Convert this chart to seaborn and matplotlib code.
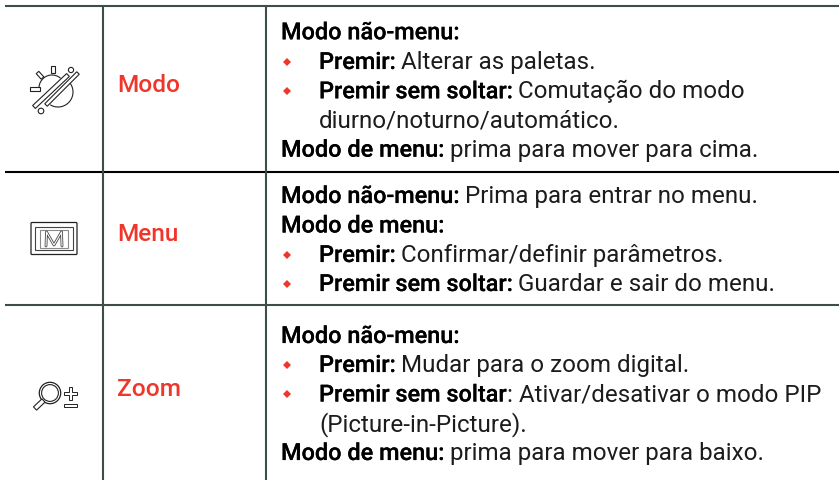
import numpy as np
import matplotlib
matplotlib.use("Agg")
import matplotlib.pyplot as plt
import matplotlib.patheffects as pe
from matplotlib.patches import Rectangle, Circle, Polygon, FancyBboxPatch
import seaborn as sns

sns.set_theme(style="white")
plt.rcParams['font.family'] = ['Roboto', 'DejaVu Sans']

RED = "#f0352b"
GRID = "#3f4d4a"
INK = "#1c1c1c"
FS_B = 16.9
FS_R = 17.4

button_names = ["Modo", "Menu", "Zoom"]
button_y = [92, 241, 396]

# (bullet?, x, baseline, bold part, regular part)
rows = [
    (False, 281, 39.3, "Modo não-menu:", ""),
    (True, 319, 69, "Premir:", " Alterar as paletas."),
    (True, 319, 98.3, "Premir sem soltar:", " Comutação do modo"),
    (False, 319, 127.3, "", "diurno/noturno/automático."),
    (False, 281, 156.7, "Modo de menu:", " prima para mover para cima."),
    (False, 281, 203, "Modo não-menu:", " Prima para entrar no menu."),
    (False, 281, 232.5, "Modo de menu:", ""),
    (True, 319, 262, "Premir:", " Confirmar/definir parâmetros."),
    (True, 319, 291, "Premir sem soltar:", " Guardar e sair do menu."),
    (False, 281, 343, "Modo não-menu:", ""),
    (True, 319, 372, "Premir:", " Mudar para o zoom digital."),
    (True, 319, 401.5, "Premir sem soltar", ": Ativar/desativar o modo PIP"),
    (False, 319, 431, "", "(Picture-in-Picture)."),
    (False, 281, 460, "Modo de menu:", " prima para mover para baixo."),
]

fig = plt.figure(figsize=(8.39, 4.8), dpi=100)
ax = fig.add_axes([0, 0, 1, 1])
ax.set_xlim(0, 839)
ax.set_ylim(480, 0)
ax.axis("off")

# table rules
ax.hlines(5.5, 5, 839, color=GRID, lw=1.5)
ax.hlines(172, 5, 839, color="black", lw=1.5)
ax.hlines(305, 5, 839, color=GRID, lw=1.5)
ax.vlines([102.5, 266], 5, 480, color=GRID, lw=1.5)

heavy = [pe.withStroke(linewidth=0.12, foreground="black")]

# button names
for name, y in zip(button_names, button_y):
    ax.text(117.5, y, name, color=RED, fontsize=17.6, weight=500, va="baseline", ha="left")

# description text
fig.canvas.draw()
r = fig.canvas.get_renderer()
for bullet, x, y, bold, reg in rows:
    cx = x
    if bullet:
        ax.plot([286.7], [y - 7.5], marker="D", ms=4, color=RED, mec=RED, mew=0)
    if bold:
        t = ax.text(cx, y, bold, color="black", fontsize=FS_B, weight=500, va="baseline", ha="left",
                    path_effects=heavy)
        cx = t.get_window_extent(r).x1
    if reg:
        if reg.startswith(" "):
            cx += 5
            reg = reg[1:]
        ax.text(cx, y, reg, color=INK, fontsize=FS_R, weight="normal", va="baseline", ha="left")

lw = 0.8
k = "#222222"

def bar(x0, y0, x1, y1, w=3.5):
    d = np.array([x1 - x0, y1 - y0], float)
    d /= np.hypot(*d)
    n = np.array([-d[1], d[0]]) * w / 2
    p = [(x0 + n[0], y0 + n[1]), (x1 + n[0], y1 + n[1]), (x1 - n[0], y1 - n[1]), (x0 - n[0], y0 - n[1])]
    ax.add_patch(Polygon(p, closed=True, fill=True, fc="white", ec=k, lw=lw, zorder=3))

def arc(cx, cy, rad, a0, a1):
    a = np.radians(np.linspace(a0, a1, 40))
    ax.plot(cx + rad * np.cos(a), cy + rad * np.sin(a), color=k, lw=lw, zorder=2)

# mode icon
arc(52, 88, 13, 165, 310)
arc(58, 92, 15, -40, 120)
bar(34, 107, 68, 75, 4)
bar(46, 105, 78, 73, 3.5)
ax.add_patch(Circle((41, 111), 2.8, fc="white", ec=k, lw=lw, zorder=3))
ax.add_patch(Circle((71, 70), 2.6, fc="white", ec=k, lw=lw, zorder=3))
bar(53, 65.5, 53, 73, 4.5)
bar(37.5, 72.5, 42.5, 78, 3.5)
bar(30, 89, 39.5, 89, 3.5)

# menu icon
ax.add_patch(FancyBboxPatch((31, 222.5), 46, 32, boxstyle="round,pad=0,rounding_size=1",
                            fc="white", ec=k, lw=0.9))
ax.add_patch(Rectangle((35, 227), 38, 23, fc="white", ec="#444444", lw=0.8))
ax.add_patch(Rectangle((40, 229.5), 28, 18, fc="white", ec="#8a8a8a", lw=0.8))
ax.plot([46, 46.5, 54, 61.5, 62], [246, 232, 245, 232, 246], color="#444444", lw=2.0)
ax.plot([46, 46.5, 54, 61.5, 62], [246, 232, 245, 232, 246], color="white", lw=0.8)

# zoom icon
ax.add_patch(Circle((50, 393), 10.7, fc="white", ec=k, lw=0.9))
ax.add_patch(Circle((50, 393), 8.4, fc="white", ec=k, lw=0.8))
bar(35, 408.5, 43.5, 400.5, 4.5)
ax.add_patch(Polygon([(68.6, 387), (72.4, 387), (72.4, 391.5), (77, 391.5), (77, 395), (72.4, 395),
                      (72.4, 400), (68.6, 400), (68.6, 395), (63.5, 395), (63.5, 391.5), (68.6, 391.5)],
                     closed=True, fc="white", ec=k, lw=0.7))
ax.add_patch(Rectangle((63.5, 404), 13.5, 3, fc="white", ec=k, lw=0.7))

fig.savefig("out.png", dpi=100)
